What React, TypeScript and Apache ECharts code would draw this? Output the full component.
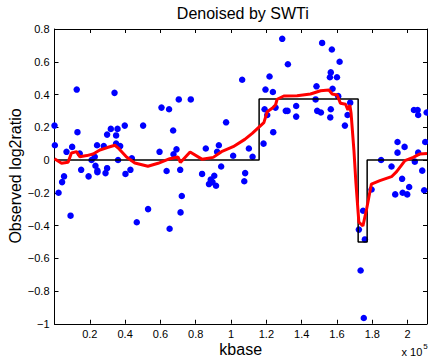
import React, { useEffect, useRef } from "react";
import * as echarts from "echarts";

// Observed probes: position (kbase) and log2 ratio
const pointKb = [
  0, 200, 2300, 4300, 5400, 6800, 9100, 10000, 12600, 13000,
  14300, 15100, 19300, 21000, 22800, 24100, 23200, 24300, 24300, 27900,
  28900, 29800, 29800, 31900, 34000, 34900, 35700, 34900, 37200, 36000,
  39800, 40200, 43000, 43800, 46600, 50200, 53000, 59500, 60600, 63500,
  64900, 65200, 67200, 67400, 69100, 70400, 71200, 71400, 72100, 77200,
  83600, 85700, 87500, 88500, 89500, 90500, 91500, 92100, 93100, 94400,
  97200, 101200, 106300, 107500, 108000, 110100, 112200, 118400, 119000, 119500,
  120500, 121800, 123700, 123900, 125200, 129000, 131000, 132000, 132200, 136900,
  136900, 147900, 148400, 148800, 150900, 151600, 156000, 156200, 156500, 156500,
  157100, 157500, 160000, 160700, 161500, 164500, 166000, 167500, 172400, 173400,
  174800, 175200, 175800, 179600, 185000, 190900, 193000, 194300, 194300, 196900,
  197200, 198300, 199800, 200900, 203600, 204100, 205700, 206000, 206000, 208300,
  209400, 210000, 210800,
];
const pointLog2 = [
  0.21, 0.09, -0.2, -0.135, -0.1, 0.05, -0.34, 0.08, 0.43, 0.17,
  0.04, -0.06, -0.1, 0.0, 0.02, 0.09, -0.035, -0.065, -0.075, 0.085,
  -0.08, -0.05, 0.155, 0.19, 0.41, 0.15, 0.19, 0.1, 0.085, 0.0,
  0.21, -0.085, -0.06, 0.01, -0.38, 0.21, -0.3, 0.05, 0.32, -0.067,
  0.31, -0.42, 0.18, 0.035, 0.065, 0.37, -0.06, -0.32, -0.22, 0.37,
  -0.085, 0.07, -0.147, -0.12, -0.135, -0.096, -0.157, 0.05, 0.09, -0.04,
  0.23, 0.026, 0.49, -0.13, -0.08, 0.07, 0.02, 0.1, 0.31, 0.43,
  0.275, 0.51, 0.415, 0.17, 0.32, 0.74, 0.3, 0.3, 0.585, 0.33,
  0.265, 0.37, 0.45, 0.3, 0.29, 0.715, 0.505, 0.26, 0.535, 0.31,
  0.675, 0.435, 0.505, 0.39, 0.6, 0.21, 0.275, 0.35, -0.425, -0.675,
  -0.31, -0.965, -0.485, -0.18, 0.0, -0.04, -0.21, 0.11, 0.045, -0.115,
  -0.2, 0.08, -0.21, -0.165, 0.305, -0.01, 0.305, 0.275, 0.045, -0.065,
  -0.185, 0.11, 0.29,
];

// True segmentation (black step)
const stepKb = [0, 115900, 115900, 172000, 172000, 177100, 177100, 211000];
const stepLog2 = [0, 0, 0.372, 0.372, -0.5, -0.5, 0, 0];

// Denoised (SWTi) estimate (red)
const denoisedKb = [
  0, 4000, 7700, 9600, 12500, 14300, 18300, 21900, 25700, 29900,
  34200, 36100, 40800, 45500, 52900, 58700, 65300, 70000, 71300, 76800,
  83700, 89900, 94600, 101200, 107800, 112000, 118600, 120500, 123300, 125200,
  126100, 129900, 137400, 145000, 150700, 155400, 157300, 160100, 162000, 164900,
  166200, 167300, 168000, 169600, 170700, 172400, 174700, 176800, 179500, 184300,
  190900, 193800, 196600, 198500, 203200, 207000, 211000,
];
const denoisedLog2 = [
  0.008, -0.02, -0.014, 0.043, 0.051, 0.02, 0.027, 0.037, 0.061, 0.076,
  0.09, 0.073, 0.018, -0.018, -0.038, -0.02, 0.008, 0.018, -0.015, 0.049,
  0.004, 0.016, 0.051, 0.081, 0.126, 0.163, 0.228, 0.295, 0.316, 0.336,
  0.371, 0.391, 0.393, 0.403, 0.423, 0.427, 0.403, 0.397, 0.346, 0.34,
  0.305, 0.336, 0.285, 0.061, -0.134, -0.379, -0.403, -0.299, -0.147, -0.126,
  -0.102, -0.071, -0.031, -0.004, 0.016, 0.037, 0.04,
];

const titleText = "Denoised by SWTi";
const xLabelText = "kbase";
const yLabelText = "Observed log2ratio";

const FONT = "'Liberation Sans', Arial, Helvetica, sans-serif";

const zip = (a: number[], b: number[]) => a.map((v, i) => [v, b[i]]);

export default function App() {
  const ref = useRef<HTMLDivElement>(null);
  useEffect(() => {
    if (!ref.current) return;
    const chart = echarts.init(ref.current, null, { renderer: "svg" });
    const axisLine = { show: true, onZero: false, lineStyle: { color: "#000", width: 1 } };
    const axisTick = { show: true, inside: true, length: 4, lineStyle: { color: "#000", width: 1 } };
    const xFmt = (v: number) => {
      if (v <= 0 || v % 20000 !== 0) return "";
      return String(Math.round(v / 1e4) / 10);
    };
    const yFmt = (v: number) => {
      const r = Math.round(v * 10) / 10;
      if (r === 0) return "0";
      return (r < 0 ? "\u2212" : "") + String(Math.abs(r));
    };
    chart.setOption({
      animation: false,
      textStyle: { fontFamily: FONT },
      grid: { left: 54.5, right: 1, top: 29, bottom: 40.25 },
      xAxis: [
        {
          type: "value", min: 0, max: 211000, interval: 20000, position: "bottom",
          axisLine, axisTick,
          axisLabel: { formatter: xFmt, color: "#000", fontSize: 11, margin: 5, fontFamily: FONT, showMaxLabel: false },
          splitLine: { show: false },
        },
        {
          type: "value", min: 0, max: 211000, interval: 20000, position: "top",
          axisLine, axisTick, axisLabel: { show: false }, splitLine: { show: false },
        },
      ],
      yAxis: [
        {
          type: "value", min: -1, max: 0.8, interval: 0.2, position: "left",
          axisLine, axisTick,
          axisLabel: { formatter: yFmt, color: "#000", fontSize: 11, margin: 5, fontFamily: FONT },
          splitLine: { show: false },
        },
        {
          type: "value", min: -1, max: 0.8, interval: 0.2, position: "right",
          axisLine, axisTick, axisLabel: { show: false }, splitLine: { show: false },
        },
      ],
      series: [
        {
          type: "scatter",
          data: zip(pointKb, pointLog2),
          symbol: "circle",
          symbolSize: 6.5,
          itemStyle: { color: "#0000ff", opacity: 1 },
          z: 2,
        },
        {
          type: "line",
          data: zip(stepKb, stepLog2),
          showSymbol: false,
          symbol: "none",
          lineStyle: { color: "#000", width: 1.5 },
          z: 3,
        },
        {
          type: "line",
          data: zip(denoisedKb, denoisedLog2),
          showSymbol: false,
          symbol: "none",
          lineStyle: { color: "#ff0000", width: 3 },
          z: 4,
        },
      ],
      graphic: [
        {
          type: "text", x: 242.8, y: 13.5,
          style: { text: titleText, fontSize: 16, fontFamily: FONT, fill: "#000", align: "center", verticalAlign: "middle" },
        },
        {
          type: "text", x: 240.7, y: 349,
          style: { text: xLabelText, fontSize: 16, fontFamily: FONT, fill: "#000", align: "center", verticalAlign: "middle" },
        },
        {
          type: "text", x: 15, y: 176, rotation: Math.PI / 2,
          style: { text: yLabelText, fontSize: 16, fontFamily: FONT, fill: "#000", align: "center", verticalAlign: "middle" },
        },
        {
          type: "text", x: 401.5, y: 351.5,
          style: { text: "x 10", fontSize: 11, fontFamily: FONT, fill: "#000", align: "left", verticalAlign: "middle" },
        },
        {
          type: "text", x: 423.3, y: 346,
          style: { text: "5", fontSize: 8, fontFamily: FONT, fill: "#000", align: "left", verticalAlign: "middle" },
        },
      ],
    });
    return () => chart.dispose();
  }, []);
  return (
    <div
      ref={ref}
      style={{ position: "absolute", left: 0, top: 0, width: 428, height: 364, background: "#fff" }}
    />
  );
}
